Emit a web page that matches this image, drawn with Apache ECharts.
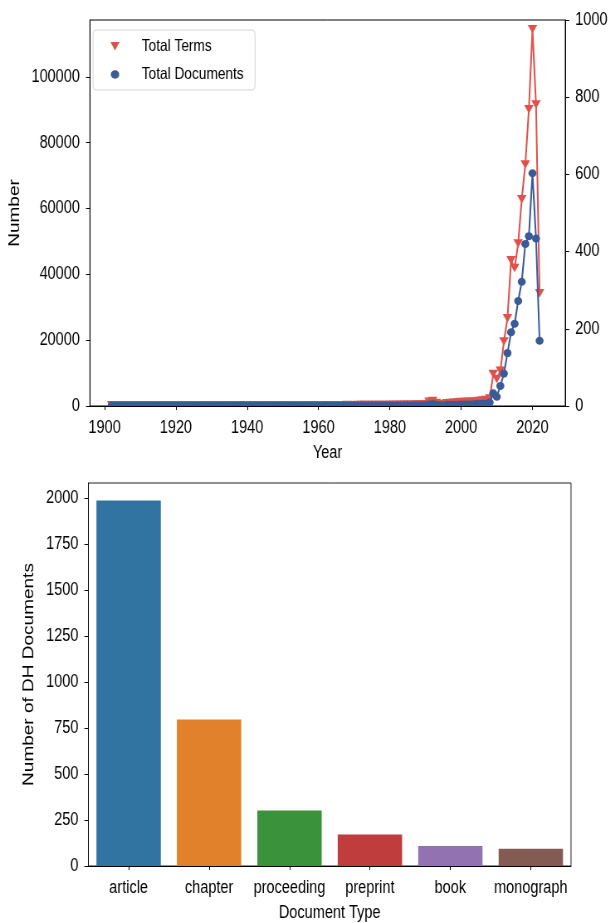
<!DOCTYPE html>
<html><head><meta charset="utf-8">
<script src="https://cdn.jsdelivr.net/npm/echarts@6/dist/echarts.min.js"></script>
<style>
html,body{margin:0;padding:0;background:#fff;overflow:hidden;width:610px;height:923px}
#c{width:735px;height:923px;transform:scaleX(0.83);transform-origin:0 0}
</style>
</head><body><div id="c"></div>
<script>
const years = [
  1902,1903,1904,1905,1906,1907,1908,1909,1910,1911,
  1912,1913,1914,1915,1916,1917,1918,1919,1920,1921,
  1922,1923,1924,1925,1926,1927,1928,1929,1930,1931,
  1932,1933,1934,1935,1936,1937,1938,1939,1940,1941,
  1942,1943,1944,1945,1946,1947,1948,1949,1950,1951,
  1952,1953,1954,1955,1956,1957,1958,1959,1960,1961,
  1962,1963,1964,1965,1966,1967,1968,1969,1970,1971,
  1972,1973,1974,1975,1976,1977,1978,1979,1980,1981,
  1982,1983,1984,1985,1986,1987,1988,1989,1990,1991,
  1992,1993,1994,1995,1996,1997,1998,1999,2000,2001,
  2002,2003,2004,2005,2006,2007,2008,2009,2010,2011,
  2012,2013,2014,2015,2016,2017,2018,2019,2020,2021,
  2022
];
const totalTerms = [
  250,240,250,250,260,250,240,250,260,250,
  250,240,250,260,250,240,250,250,260,250,
  250,240,250,250,240,260,250,240,250,250,
  250,260,240,250,240,250,250,260,250,240,
  250,260,240,250,260,250,240,250,250,250,
  260,250,250,240,250,250,260,250,250,260,
  250,240,260,250,250,260,270,250,260,270,
  280,270,290,280,300,290,320,300,310,350,
  330,370,350,400,380,450,430,470,550,1300,
  1500,900,500,600,800,900,1000,1100,1200,1200,
  1300,1300,1400,1500,1700,1800,2300,9700,8200,10700,
  19600,26700,44300,41900,49400,62800,73400,90200,114500,91600,
  34300
];
const totalDocuments = [
  1,1,1,1,1,1,1,1,1,1,
  1,1,1,1,1,1,1,1,1,1,
  1,1,1,1,1,1,1,1,1,1,
  1,1,1,1,1,1,1,1,1,1,
  1,1,1,1,1,1,1,1,1,1,
  1,1,1,1,1,1,1,1,1,1,
  1,1,1,1,1,1,1,1,1,1,
  1,1,1,1,1,1,1,1,1,1,
  1,1,1,2,1,2,2,2,2,4,
  5,3,2,2,3,3,3,3,4,4,
  4,4,5,5,6,6,9,33,24,52,
  84,137,191,213,272,322,420,440,603,434,
  169
];
const yearTicks = [1900,1920,1940,1960,1980,2000,2020];
const termTicks = [0,20000,40000,60000,80000,100000];
const docTicks = [0,200,400,600,800,1000];
const seriesNames = ['Total Terms','Total Documents'];

const docTypes = ['article','chapter','proceeding','preprint','book','monograph'];
const docTypeCounts = [1987,797,302,171,109,94];
const countTicks = [0,250,500,750,1000,1250,1500,1750,2000];
const barColors = ['#3274a1','#e1812c','#3a923a','#c03d3e','#9372b2','#845b53'];

// the whole figure is drawn 1/0.83 wider and squeezed horizontally by CSS (like the reference)
const SX = 0.83;
const px = v => v / SX;

const RED = '#e0514c', BLUE = '#3a5a98';
const FONT = '"Liberation Sans",Arial,sans-serif';
const TRI = 'path://M0,0 L10,0 L5,9 Z';
const plain = v => String(v);

const chart = echarts.init(document.getElementById('c'), null, {renderer:'canvas'});

const tickLabel = {color:'#000', fontFamily:FONT, fontSize:17.5, formatter:plain};
const axisLineStyle = {show:true, lineStyle:{color:'#000', width:1}};
const xTick = {show:true, length:4, lineStyle:{color:'#000', width:1}};
const yTick = {show:true, length:px(4), lineStyle:{color:'#000', width:1}};

// legend drawn as graphic elements (box, marker, label)
const LX = px(115), TX = px(141.7);
const legendGraphic = [
  {type:'rect', z:20, silent:true, shape:{x:px(93), y:30, width:px(162), height:60, r:4},
   style:{fill:'rgba(255,255,255,0.85)', stroke:'#d4d4d4', lineWidth:1}},
  {type:'polygon', z:21, silent:true, shape:{points:[[LX-px(4.6),42],[LX+px(4.6),42],[LX,50.5]]}, style:{fill:RED}},
  {type:'ellipse', z:21, silent:true, shape:{cx:LX, cy:74.5, rx:px(4.2), ry:4.2}, style:{fill:BLUE}},
  {type:'text', z:21, silent:true, x:TX, y:46, style:{text:seriesNames[0], fill:'#000', font:'16.5px '+FONT, verticalAlign:'middle', align:'left'}},
  {type:'text', z:21, silent:true, x:TX, y:74, style:{text:seriesNames[1], fill:'#000', font:'16.5px '+FONT, verticalAlign:'middle', align:'left'}}
];

chart.setOption({
  animation:false,
  backgroundColor:'#fff',
  grid:[
    {left:px(87), top:20, width:px(480), height:386, show:true, borderColor:'#000', borderWidth:1, containLabel:false},
    {left:px(88.4), top:483, width:px(482.6), height:384, show:true, borderColor:'#222', borderWidth:1, containLabel:false}
  ],
  xAxis:[
    {type:'value', gridIndex:0, min:1895.9, max:2029.2, z:10,
     name:'Year', nameLocation:'middle', nameGap:38,
     nameTextStyle:{color:'#000', fontFamily:FONT, fontSize:17.5},
     axisLine:axisLineStyle, axisTick:Object.assign({customValues:yearTicks}, xTick),
     axisLabel:Object.assign({customValues:yearTicks, margin:13.5}, tickLabel),
     splitLine:{show:false}},
    {type:'category', gridIndex:1, data:docTypes, z:10,
     name:'Document Type', nameLocation:'middle', nameGap:38,
     nameTextStyle:{color:'#000', fontFamily:FONT, fontSize:17.5},
     axisLine:axisLineStyle, axisTick:Object.assign({alignWithLabel:true}, xTick),
     axisLabel:Object.assign({margin:13.5, interval:0}, tickLabel),
     splitLine:{show:false}}
  ],
  yAxis:[
    {type:'value', gridIndex:0, position:'left', min:0, max:117300, z:10,
     name:'Number', nameLocation:'middle', nameRotate:90, nameGap:67,
     nameTextStyle:{color:'#000', fontFamily:FONT, fontSize:19},
     axisLine:axisLineStyle, axisTick:Object.assign({customValues:termTicks}, yTick),
     axisLabel:Object.assign({customValues:termTicks, margin:px(10)}, tickLabel),
     splitLine:{show:false}},
    {type:'value', gridIndex:0, position:'right', min:0, max:1000, interval:200, z:10,
     axisLine:axisLineStyle, axisTick:Object.assign({customValues:docTicks}, yTick),
     axisLabel:Object.assign({customValues:docTicks, margin:px(10)}, tickLabel),
     splitLine:{show:false}},
    {type:'value', gridIndex:1, min:0, max:2082, z:10,
     name:'Number of DH Documents', nameLocation:'middle', nameRotate:90, nameGap:51,
     nameTextStyle:{color:'#000', fontFamily:FONT, fontSize:19},
     axisLine:axisLineStyle, axisTick:Object.assign({customValues:countTicks}, yTick),
     axisLabel:Object.assign({customValues:countTicks, margin:px(10)}, tickLabel),
     splitLine:{show:false}}
  ],
  graphic:[
    {type:'rect', z:5, silent:true, shape:{x:px(86), y:407, width:px(483), height:9}, style:{fill:'#fff'}}
  ].concat(legendGraphic),
  series:[
    {name:seriesNames[0], type:'line', xAxisIndex:0, yAxisIndex:0,
     data:years.map((y,i)=>[y,totalTerms[i]]),
     symbol:TRI, symbolSize:[px(9.5),8.5], showAllSymbol:true,
     lineStyle:{color:RED, width:2}, itemStyle:{color:RED}, z:2},
    {name:seriesNames[1], type:'line', xAxisIndex:0, yAxisIndex:1,
     data:years.map((y,i)=>[y,totalDocuments[i]]),
     symbol:'circle', symbolSize:[px(8),8], showAllSymbol:true,
     lineStyle:{color:BLUE, width:2}, itemStyle:{color:BLUE}, z:3},
    {name:'Document Type', type:'bar', xAxisIndex:1, yAxisIndex:2,
     barCategoryGap:'20%',
     data:docTypeCounts.map((v,i)=>({value:v, itemStyle:{color:barColors[i]}}))}
  ]
});
</script></body></html>
